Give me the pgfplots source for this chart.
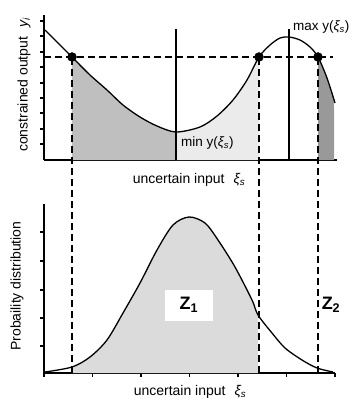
\documentclass[border=0pt]{standalone}
\usepackage{pgfplots}
\pgfplotsset{compat=1.18}
\usepgfplotslibrary{fillbetween}
\usepackage{fontspec}
\setmainfont{Liberation Sans}
\setsansfont{Liberation Sans}
\newcommand{\xis}{{\itshape ξ\textsubscript{s}}}
\begin{document}
\begin{tikzpicture}
% ---------- top panel ----------
\begin{axis}[
  at={(44pt,-160pt)}, anchor=south west,
  x=1pt, y=1pt, xmin=0, xmax=293, ymin=0, ymax=145,
  axis x line*=bottom, axis y line*=left,
  axis line style={line width=1.5pt,-},
  xtick=\empty, ytick={16,31,47,62,77,93,108,124,139}, yticklabels={},
  tick align=outside, major tick length=4pt, tick style={line width=1.2pt, black},
  clip=false,
]
\addplot[draw=none, smooth, name path=curve] coordinates {
 (1,130) (28,103) (46,85) (63,70) (79,55) (96,43) (113,34) (132,28)
 (156,33) (173,44) (189,60) (203,80) (215,103) (226,115) (236,122) (245,123)
 (256,120) (266,113) (274,103) (283,82) (291,57)};
\path[name path=base] (axis cs:0,0) -- (axis cs:293,0);
\addplot[fill=black!25, draw=none] fill between[of=curve and base, soft clip={domain=28:132}];
\addplot[fill=black!8, draw=none] fill between[of=curve and base, soft clip={domain=132:215}];
\addplot[fill=black!40, draw=none] fill between[of=curve and base, soft clip={domain=274:290}];
\addplot[line width=1.3pt, smooth] coordinates {
 (1,130) (28,103) (46,85) (63,70) (79,55) (96,43) (113,34) (132,28)
 (156,33) (173,44) (189,60) (203,80) (215,103) (226,115) (236,122) (245,123)
 (256,120) (266,113) (274,103) (283,82) (291,57)};
\addplot[line width=1.3pt] coordinates {(132,0) (132,131)};
\addplot[line width=1.3pt] coordinates {(245,0) (245,131)};
\addplot[line width=1.5pt, dash pattern=on 7pt off 4pt] coordinates {(0,103) (289,103)};
\addplot[only marks, mark=*, mark size=4.5pt] coordinates {(28,103) (215,103) (274,103)};
\node[anchor=west, font=\fontsize{13.5}{15}\selectfont, inner sep=0pt] at (axis cs:137,17) {min y(\xis)};
\node[anchor=west, font=\fontsize{13.5}{15}\selectfont, inner sep=0pt] at (axis cs:249,133) {max y(\xis)};
\node[font=\fontsize{14}{16}\selectfont] at (axis cs:145,-20) {uncertain input\hspace{9pt}\xis};
\node[rotate=90, font=\fontsize{14}{16}\selectfont] at (axis cs:-20,75) {constrained output\hspace{9pt}{\itshape y\textsubscript{i}}};
\end{axis}
% ---------- bottom panel ----------
\begin{axis}[
  at={(44pt,-373pt)}, anchor=south west,
  x=1pt, y=1pt, xmin=0, xmax=291, ymin=0, ymax=169,
  axis x line*=bottom, axis y line*=left,
  axis line style={line width=1.5pt,-},
  xtick={0,48.5,97,145.5,194,242.5,291}, xticklabels={},
  ytick={27,55,83,112,141}, yticklabels={},
  tick align=outside, major tick length=4pt, tick style={line width=1.2pt, black},
  clip=false,
]
\addplot[draw=none, smooth, name path=bell] coordinates {
 (1,1) (28,6) (46,16) (63,33) (79,60) (96,90) (113,123) (129,148) (145,156)
 (161,150) (174,133) (191,106) (208,73) (214,58) (228,40) (241,25) (258,13) (273,5) (289,1)};
\path[name path=base2] (axis cs:0,0) -- (axis cs:291,0);
\addplot[fill=black!14, draw=none] fill between[of=bell and base2, soft clip={domain=28:214}];
\addplot[line width=1.3pt, smooth] coordinates {
 (1,1) (28,6) (46,16) (63,33) (79,60) (96,90) (113,123) (129,148) (145,156)
 (161,150) (174,133) (191,106) (208,73) (214,58) (228,40) (241,25) (258,13) (273,5) (289,1)};
\addplot[line width=1.5pt, dash pattern=on 7pt off 4pt] coordinates {(28,0) (28,316)};
\addplot[line width=1.5pt, dash pattern=on 7pt off 4pt] coordinates {(215,0) (215,316)};
\addplot[line width=1.5pt, dash pattern=on 7pt off 4pt] coordinates {(274,0) (274,316)};
\node[fill=white, minimum width=48pt, minimum height=31pt, font=\fontsize{18}{20}\selectfont\bfseries] at (axis cs:145,68) {Z\textsubscript{1}};
\node[font=\fontsize{18}{20}\selectfont\bfseries] at (axis cs:287,68) {Z\textsubscript{2}};
\node[font=\fontsize{14}{16}\selectfont] at (axis cs:146,-19) {uncertain input\hspace{9pt}\xis};
\node[rotate=90, font=\fontsize{14}{16}\selectfont] at (axis cs:-27,87) {Probaility distribution};
\end{axis}
\pgfresetboundingbox
\useasboundingbox (0,0) rectangle (355pt,-405pt);
\end{tikzpicture}
\end{document}
